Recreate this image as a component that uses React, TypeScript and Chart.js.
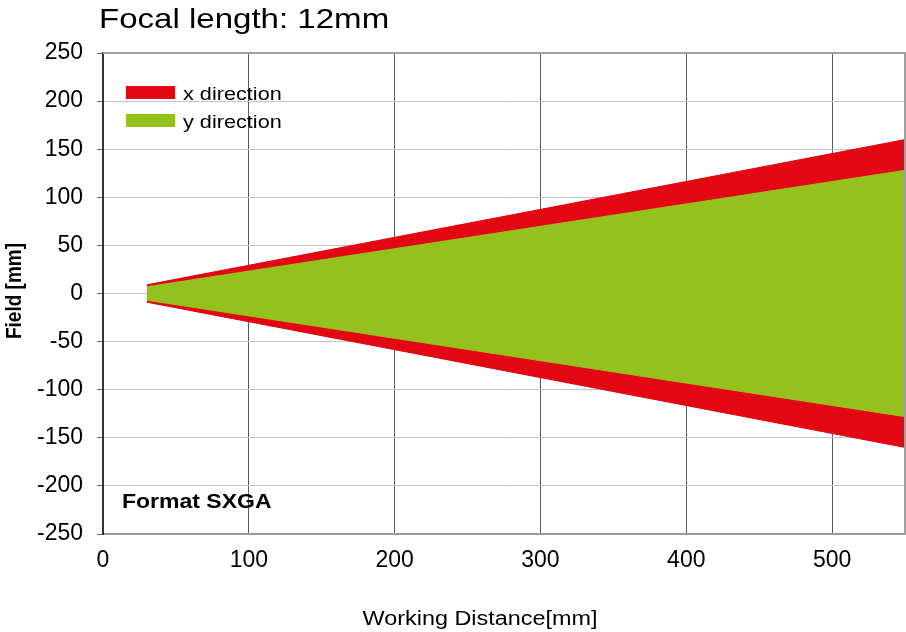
import React, { useEffect, useRef } from "react";
import { Chart, registerables } from "chart.js";

Chart.register(...registerables);

// Data
const distances = [30, 550]; // working distance [mm]
const xFieldUpper = [9, 160];
const xFieldLower = [-9, -160];
const yFieldUpper = [7, 128];
const yFieldLower = [-7, -128];
const seriesLabels = ["x direction", "y direction"];
const titleText = "Focal length: 12mm";
const formatText = "Format SXGA";
const xAxisTitle = "Working Distance[mm]";
const yAxisTitle = "Field [mm]";

const RED = "#e30613";
const GREEN = "#95c11f";
const FONT = "'Liberation Sans', Arial, sans-serif";

const toPts = (xs: number[], ys: number[]) => xs.map((x, i) => ({ x, y: ys[i] }));

const textPlugin = {
  id: "textPlugin",
  afterDraw(chart: any) {
    const ctx = chart.ctx;
    const area = chart.chartArea;
    ctx.save();
    // top & right border
    ctx.strokeStyle = "#a0a0a0";
    ctx.lineWidth = 2;
    ctx.beginPath();
    ctx.moveTo(area.left, area.top);
    ctx.lineTo(area.right, area.top);
    ctx.lineTo(area.right, area.bottom);
    ctx.stroke();

    ctx.fillStyle = "#000";
    ctx.textAlign = "left";
    ctx.textBaseline = "alphabetic";

    // Title
    ctx.save();
    ctx.translate(99, 28);
    ctx.scale(1.18, 1);
    ctx.font = `28px ${FONT}`;
    ctx.fillText(titleText, 0, 0);
    ctx.restore();

    // Legend
    const items = [
      { label: seriesLabels[0], color: RED },
      { label: seriesLabels[1], color: GREEN },
    ];
    items.forEach((it, i) => {
      const y0 = 86 + i * 28;
      ctx.fillStyle = it.color;
      ctx.fillRect(126, y0, 49, 13);
      ctx.fillStyle = "#000";
      ctx.save();
      ctx.translate(183, y0 + 14);
      ctx.scale(1.14, 1);
      ctx.font = `19px ${FONT}`;
      ctx.fillText(it.label, 0, 0);
      ctx.restore();
    });

    // Format label
    ctx.save();
    ctx.translate(122, 508);
    ctx.scale(1.15, 1);
    ctx.font = `bold 20px ${FONT}`;
    ctx.fillText(formatText, 0, 0);
    ctx.restore();

    // X axis title
    ctx.save();
    ctx.translate(480, 625);
    ctx.scale(1.2, 1);
    ctx.textAlign = "center";
    ctx.font = `19.5px ${FONT}`;
    ctx.fillText(xAxisTitle, 0, 0);
    ctx.restore();

    // Y axis title
    ctx.save();
    ctx.translate(15, 291);
    ctx.rotate(-Math.PI / 2);
    ctx.scale(1, 1.15);
    ctx.textAlign = "center";
    ctx.textBaseline = "middle";
    ctx.font = `bold 19px ${FONT}`;
    ctx.fillText(yAxisTitle, 0, 0);
    ctx.restore();

    ctx.restore();
  },
};

export default function App() {
  const ref = useRef<HTMLCanvasElement | null>(null);

  useEffect(() => {
    if (!ref.current) return;
    const chart = new Chart(ref.current, {
      type: "line",
      data: {
        datasets: [
          {
            label: seriesLabels[1],
            data: toPts(distances, yFieldUpper),
            borderColor: GREEN,
            backgroundColor: GREEN,
            borderWidth: 1,
            pointRadius: 0,
            fill: "+1",
          },
          {
            label: seriesLabels[1] + " lower",
            data: toPts(distances, yFieldLower),
            borderColor: GREEN,
            backgroundColor: GREEN,
            borderWidth: 1,
            pointRadius: 0,
            fill: false,
          },
          {
            label: seriesLabels[0],
            data: toPts(distances, xFieldUpper),
            borderColor: RED,
            backgroundColor: RED,
            borderWidth: 1,
            pointRadius: 0,
            fill: "+1",
          },
          {
            label: seriesLabels[0] + " lower",
            data: toPts(distances, xFieldLower),
            borderColor: RED,
            backgroundColor: RED,
            borderWidth: 1,
            pointRadius: 0,
            fill: false,
          },
        ],
      },
      options: {
        responsive: false,
        animation: false,
        layout: { padding: { top: 53, right: 1, left: 0, bottom: 0 } },
        plugins: {
          legend: { display: false },
          title: { display: false },
          tooltip: { enabled: false },
        },
        scales: {
          x: {
            type: "linear",
            min: 0,
            max: 550,
            afterFit: (s: any) => {
              s.height = 98;
              s.paddingLeft = 0;
              s.paddingRight = 0;
            },
            ticks: {
              stepSize: 100,
              color: "#000",
              font: { family: FONT, size: 23 },
              padding: 13,
              maxRotation: 0,
              callback: (v: any) => (Number(v) % 100 === 0 ? String(v) : ""),
            },
            grid: { color: "#5a5a5a", lineWidth: 1, drawTicks: false },
            border: { color: "#9a9a9a", width: 2 },
          },
          y: {
            type: "linear",
            min: -250,
            max: 250,
            afterFit: (s: any) => {
              s.width = 103;
              s.paddingTop = 0;
              s.paddingBottom = 0;
            },
            ticks: {
              stepSize: 50,
              color: "#000",
              font: { family: FONT, size: 23 },
              padding: 14,
            },
            grid: { color: "#c4c4c4", lineWidth: 1, drawTicks: true, tickLength: 6, tickColor: "#666" },
            border: { color: "#333", width: 2 },
          },
        },
      },
      plugins: [textPlugin],
    } as any);
    return () => chart.destroy();
  }, []);

  return (
    <div style={{ position: "fixed", left: 0, top: 0, width: 906, height: 632, background: "#fff" }}>
      <canvas ref={ref} width={906} height={632} style={{ width: 906, height: 632 }} />
    </div>
  );
}
